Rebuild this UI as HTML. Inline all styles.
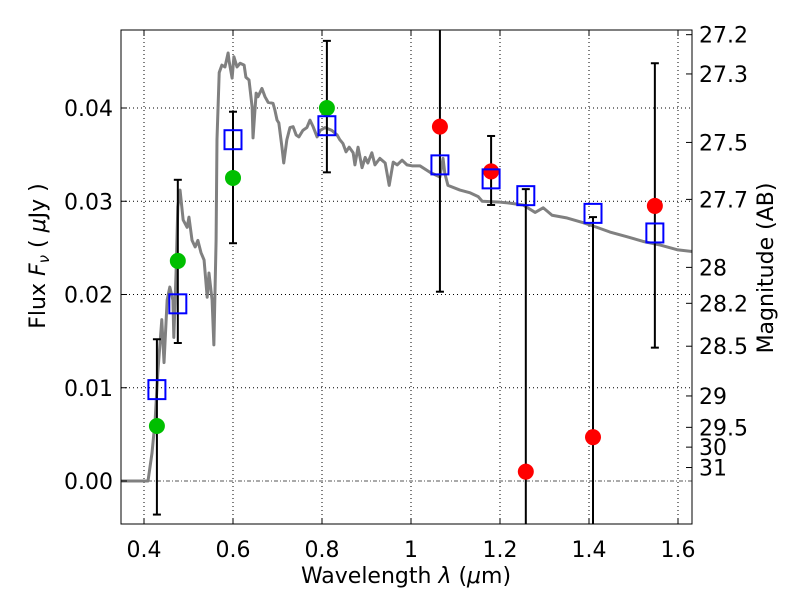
<!DOCTYPE html>
<html><head><meta charset="utf-8"><style>
html,body{margin:0;padding:0;background:#fff;}
svg text{font-family:"DejaVu Sans","Liberation Sans",sans-serif;}
</style></head><body>
<svg id="chart" width="800" height="600" viewBox="0 0 800 600"></svg>
<script>
const specWave=[0.348,0.409,0.418,0.425,0.431,0.440,0.445,0.452,0.458,0.465,0.467,0.472,0.476,0.481,0.488,0.497,0.501,0.508,0.515,0.521,0.528,0.535,0.542,0.546,0.553,0.557,0.562,0.564,0.569,0.575,0.582,0.589,0.591,0.598,0.602,0.609,0.616,0.625,0.629,0.636,0.643,0.645,0.652,0.656,0.665,0.672,0.679,0.690,0.694,0.699,0.703,0.710,0.714,0.721,0.728,0.735,0.742,0.748,0.757,0.766,0.773,0.780,0.789,0.796,0.807,0.822,0.834,0.840,0.847,0.854,0.861,0.870,0.874,0.881,0.890,0.897,0.903,0.912,0.919,0.930,0.942,0.951,0.960,0.969,0.980,0.991,1.002,1.020,1.043,1.065,1.072,1.076,1.083,1.110,1.133,1.151,1.160,1.200,1.222,1.252,1.279,1.297,1.317,1.351,1.387,1.418,1.447,1.485,1.521,1.560,1.598,1.634];
const specFlux=[0,0,0.0030,0.0065,0.0116,0.0173,0.0127,0.0194,0.0208,0.0194,0.0154,0.0223,0.0294,0.0312,0.0280,0.0272,0.0283,0.0258,0.0251,0.0258,0.0245,0.0237,0.0197,0.0223,0.0194,0.0146,0.0258,0.0366,0.0438,0.0446,0.0444,0.0459,0.0451,0.0432,0.0455,0.0444,0.0448,0.0446,0.0433,0.0430,0.0401,0.0368,0.0416,0.0412,0.0421,0.0412,0.0406,0.0405,0.0398,0.0387,0.0384,0.0358,0.0341,0.0366,0.0379,0.0380,0.0371,0.0369,0.0376,0.0379,0.0387,0.0380,0.0369,0.0376,0.0379,0.0376,0.0371,0.0366,0.0362,0.0353,0.0358,0.0352,0.0339,0.0358,0.0336,0.0347,0.0341,0.0352,0.0339,0.0346,0.0341,0.0317,0.0342,0.0339,0.0344,0.0339,0.0338,0.0338,0.0331,0.0326,0.0346,0.0330,0.0317,0.0312,0.0309,0.0305,0.0300,0.0299,0.0298,0.0296,0.0288,0.0293,0.0285,0.0282,0.0277,0.0272,0.0267,0.0262,0.0257,0.0253,0.0248,0.0246];
const bandWave=[0.429,0.476,0.600,0.811,1.065,1.180,1.258,1.409,1.548];
const modelFlux=[0.0098,0.0190,0.0366,0.0381,0.0339,0.0324,0.0306,0.0287,0.0266];
const errLow=[-0.0036,0.0148,0.0255,0.0331,0.0203,0.0296,-0.01,-0.01,0.0143];
const errHigh=[0.0152,0.0323,0.0396,0.0472,0.060,0.0370,0.0313,0.0283,0.0448];
const greenWave=[0.429,0.476,0.600,0.811];
const greenFlux=[0.0059,0.0236,0.0325,0.0400];
const redWave=[1.065,1.180,1.258,1.409,1.548];
const redFlux=[0.0380,0.0332,0.0010,0.0047,0.0295];
const xTicks=[0.4,0.6,0.8,1.0,1.2,1.4,1.6];
const xTickLabels=["0.4","0.6","0.8","1","1.2","1.4","1.6"];
const yTicks=[0,0.01,0.02,0.03,0.04];
const yTickLabels=["0.00","0.01","0.02","0.03","0.04"];
const magTicks=[27.2,27.3,27.5,27.7,28,28.2,28.5,29,29.5,30,31];
const magLabels=["27.2","27.3","27.5","27.7","28","28.2","28.5","29","29.5","30","31"];

const L=121,R=692,T=30,B=524;
const X=v=>144+(v-0.4)*445;
const Y=f=>481-f*9325;
const svg=document.getElementById('chart');
const NS='http://www.w3.org/2000/svg';
function mk(tag,attrs,parent){const e=document.createElementNS(NS,tag);for(const k in attrs)e.setAttribute(k,attrs[k]);(parent||svg).appendChild(e);return e;}

const defs=mk('defs',{});
const cp=mk('clipPath',{id:'clip'},defs);
mk('rect',{x:L,y:T,width:R-L,height:B-T},cp);

xTicks.forEach((t,i)=>{
  const g=mk('line',{x1:X(t),x2:X(t),y1:T,y2:B,stroke:'#000','stroke-width':1,'stroke-dasharray':'1,3'});
  
  
});
yTicks.forEach((t,i)=>{
  if(t===0)return;
  const g=mk('line',{x1:L,x2:R,y1:Y(t),y2:Y(t),stroke:'#000','stroke-width':1,'stroke-dasharray':'1,3'});
  
  
});
const zl=mk('line',{x1:L,x2:R,y1:Y(0),y2:Y(0),stroke:'#555','stroke-width':1,'stroke-dasharray':'4,2,1,2'});



const plot=mk('g',{'clip-path':'url(#clip)'});



const sp=mk('polyline',{points:specWave.map((w,i)=>X(w)+','+Y(specFlux[i])).join(' '),fill:'none',stroke:'#808080','stroke-width':3,'stroke-linejoin':'round'},plot);



bandWave.forEach((w,i)=>{
  const x=X(w);
  const eb=mk('line',{x1:x,x2:x,y1:Y(errLow[i]),y2:Y(errHigh[i]),stroke:'#000','stroke-width':2},plot);
  
  
  [errLow[i],errHigh[i]].forEach(v=>{
    const c=mk('line',{x1:x-4,x2:x+4,y1:Y(v),y2:Y(v),stroke:'#000','stroke-width':2},plot);
    
    
  });
});
greenWave.forEach((w,i)=>{
  const c=mk('circle',{cx:X(w),cy:Y(greenFlux[i]),r:8,fill:'#00bf00'},plot);
  
  
});
redWave.forEach((w,i)=>{
  const c=mk('circle',{cx:X(w),cy:Y(redFlux[i]),r:8,fill:'#ff0000'},plot);
  
  
});
bandWave.forEach((w,i)=>{
  const s=mk('rect',{x:X(w)-8.5,y:Y(modelFlux[i])-9.5,width:17,height:19,fill:'none',stroke:'#0000ff','stroke-width':2},plot);
  
  
});

const fr=mk('rect',{x:L,y:T,width:R-L,height:B-T,fill:'none',stroke:'#000','stroke-width':1});



xTicks.forEach((t,i)=>{
  const x=X(t);
  mk('line',{x1:x,x2:x,y1:B,y2:B-6,stroke:'#000'});
  mk('line',{x1:x,x2:x,y1:T,y2:T+6,stroke:'#000'});
  const tx=mk('text',{x:x,y:557,'font-size':22,'text-anchor':'middle'});
  tx.textContent=xTickLabels[i];
  
  
});
yTicks.forEach((t,i)=>{
  const y=Y(t);
  mk('line',{x1:L,x2:L+6,y1:y,y2:y,stroke:'#000'});
  const tx=mk('text',{x:113,y:y+8,'font-size':22,'text-anchor':'end'});
  tx.textContent=yTickLabels[i];
  
  
});
magTicks.forEach((m,i)=>{
  const y=Y(Math.pow(10,(23.9-m)/2.5));
  mk('line',{x1:R,x2:R-6,y1:y,y2:y,stroke:'#000'});
  const tx=mk('text',{x:699,y:y+8,'font-size':22});
  tx.textContent=magLabels[i];
  
  
});
</script>
<svg width="800" height="600" style="position:absolute;left:0;top:0;pointer-events:none">
<text x="406" y="583" font-size="22" text-anchor="middle" font-family="DejaVu Sans, sans-serif">Wavelength  <tspan font-style="italic">λ</tspan> (<tspan font-style="italic">μ</tspan>m)</text>
<text transform="translate(45,256) rotate(-90)" font-size="22" text-anchor="middle" font-family="DejaVu Sans, sans-serif">Flux  <tspan font-style="italic">F</tspan><tspan font-style="italic" font-size="15" dy="4">ν</tspan><tspan dy="-4">  (  </tspan><tspan font-style="italic">μ</tspan>Jy )</text>
<text transform="translate(773,268) rotate(-90)" font-size="22" text-anchor="middle" font-family="DejaVu Sans, sans-serif">Magnitude (AB)</text>
</svg>
</body></html>
